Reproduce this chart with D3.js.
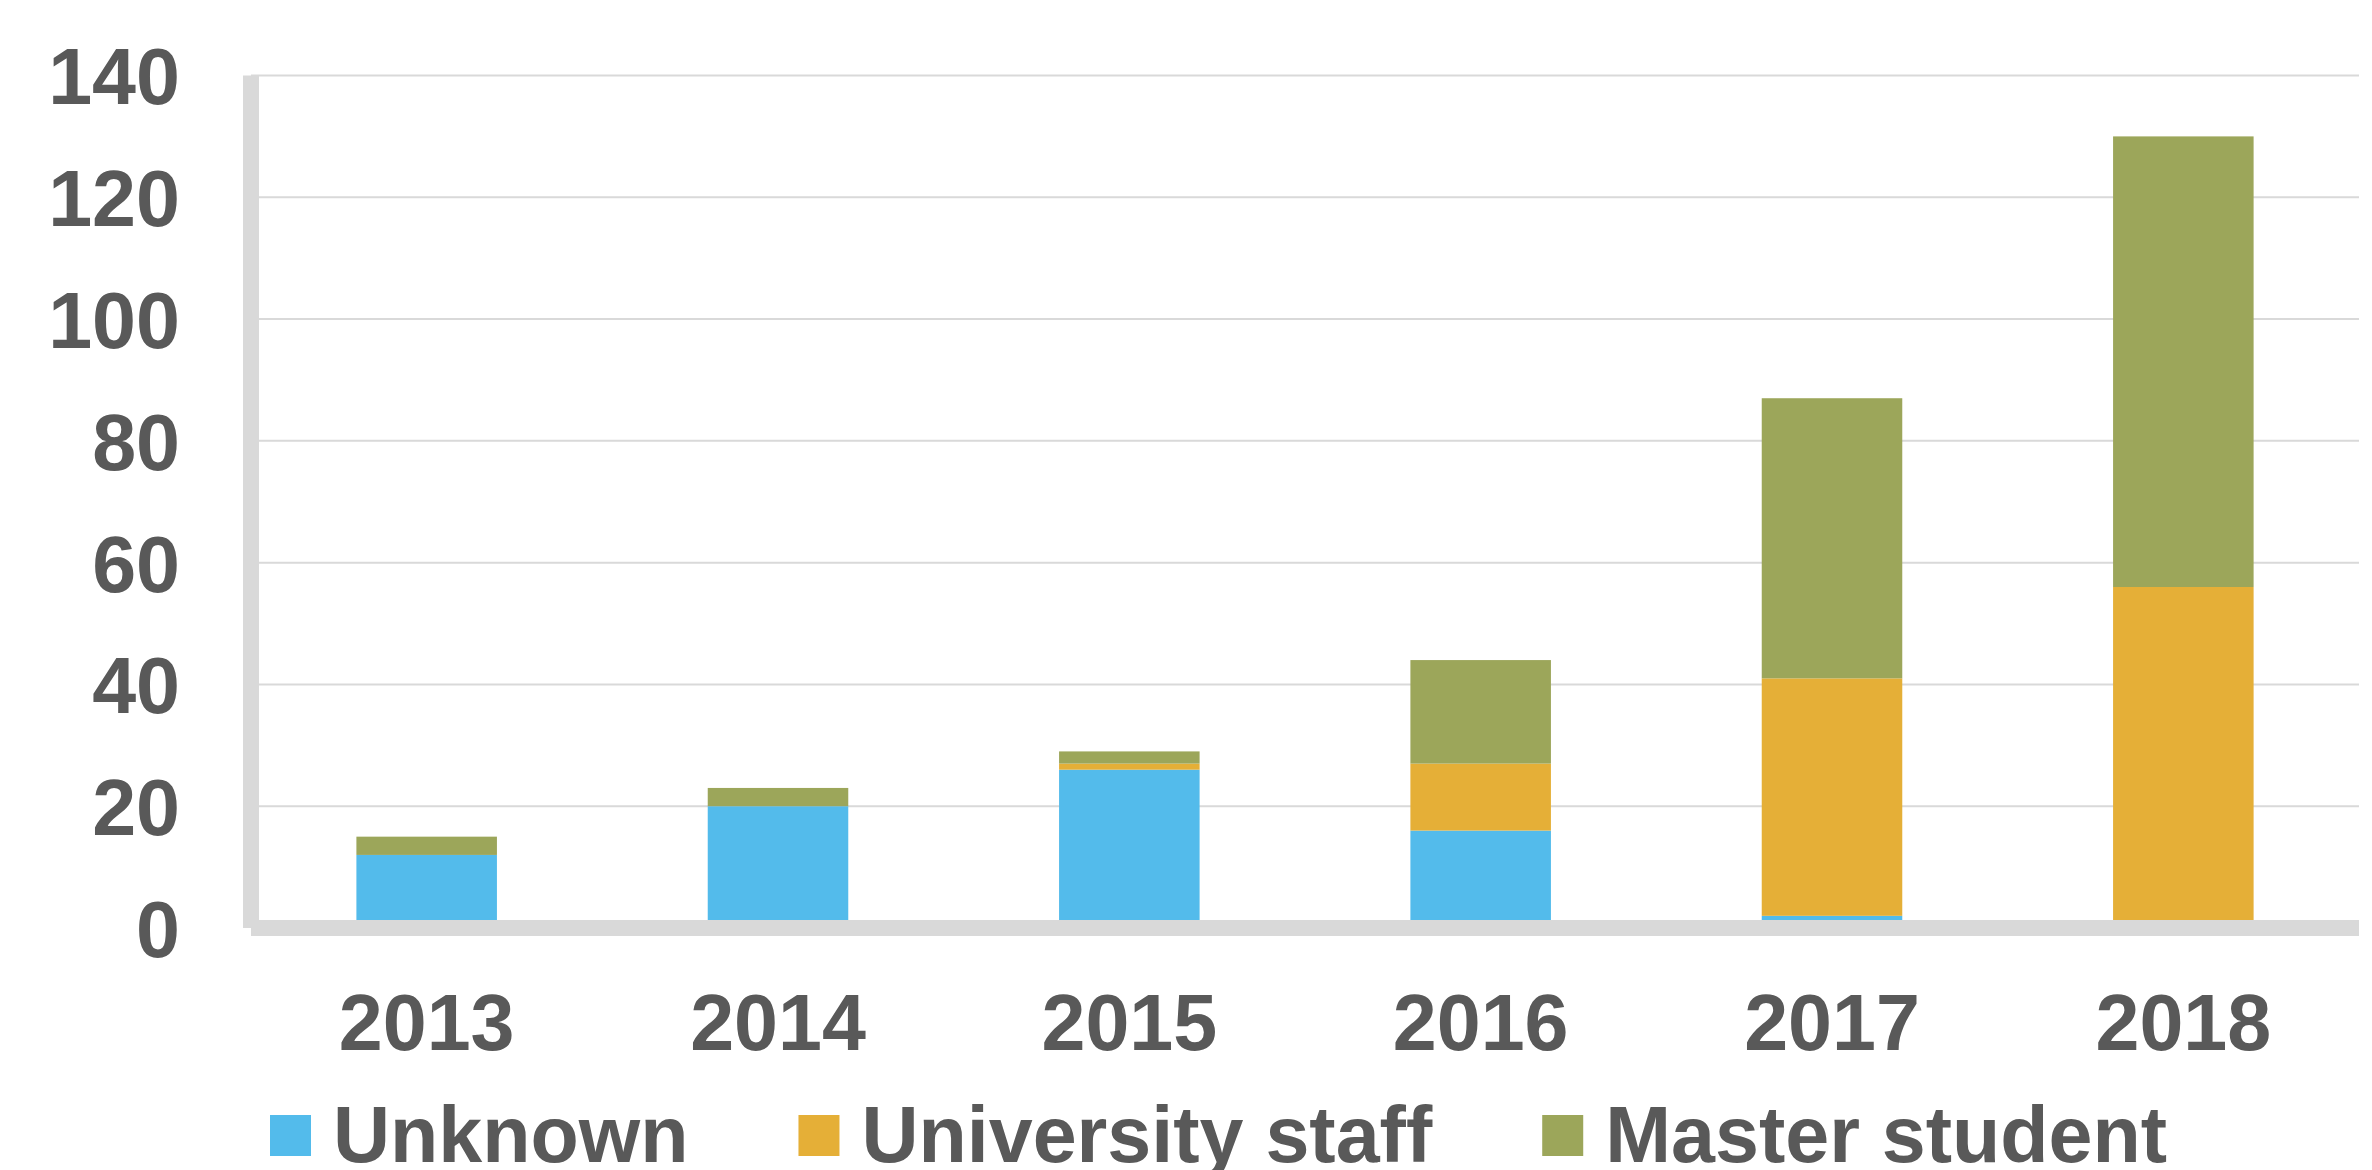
<!DOCTYPE html>
<html><head><meta charset="utf-8">
<script src="https://cdn.jsdelivr.net/npm/d3@7"></script>
<style>html,body{margin:0;padding:0;background:#fff;}svg{display:block;}</style>
</head><body>
<svg id="chart" width="2372" height="1170"></svg>
<script>
const years = ["2013","2014","2015","2016","2017","2018"];
const seriesNames = ["Unknown","University staff","Master student"];
const unknown = [12, 20, 26, 16, 2, 0];
const universityStaff = [0, 0, 1, 11, 39, 56];
const masterStudent = [3, 3, 2, 17, 46, 74];
const yTicks = [0, 20, 40, 60, 80, 100, 120, 140];
const colors = ["#53BBEB", "#E5AF37", "#9CA65A"];

const svg = d3.select("#chart");
const font = "'Liberation Sans', Arial, sans-serif";
const textColor = "#595959";
const grid = "#D9D9D9";

const x0 = 251, x1 = 2359, yTop = 75.5, yZero = 928;
const x = d3.scaleBand().domain(years).range([x0, x1]).paddingInner(0.6).paddingOuter(0.3);
const y = d3.scaleLinear().domain([0, 140]).range([yZero, yTop]);

const table = years.map((yr, i) => ({year: yr, "Unknown": unknown[i], "University staff": universityStaff[i], "Master student": masterStudent[i]}));
const stacked = d3.stack().keys(seriesNames)(table);

// gridlines
svg.append("g").selectAll("line").data(yTicks.filter(t => t > 0)).join("line")
  .attr("x1", x0).attr("x2", x1)
  .attr("y1", d => y(d)).attr("y2", d => y(d))
  .attr("stroke", grid).attr("stroke-width", 2);

// bars
svg.append("g").selectAll("g").data(stacked).join("g")
  .attr("fill", (d, i) => colors[i])
  .selectAll("rect").data(d => d).join("rect")
  .attr("x", d => x(d.data.year))
  .attr("width", x.bandwidth())
  .attr("y", d => y(d[1]))
  .attr("height", d => Math.max(0, y(d[0]) - y(d[1])));

// left wall and floor
svg.append("rect").attr("x", x0 - 8).attr("y", yTop).attr("width", 16).attr("height", yZero - yTop).attr("fill", grid);
svg.append("rect").attr("x", x0).attr("y", yZero - 8).attr("width", x1 - x0).attr("height", 16).attr("fill", grid);

// y axis labels
const yAxis = d3.axisLeft(y).tickValues(yTicks).tickSize(0).tickPadding(0).tickFormat(d3.format("d"));
const yg = svg.append("g").attr("transform", "translate(180,0)").call(yAxis);
yg.select(".domain").remove();
yg.selectAll("text").attr("font-family", font).attr("font-weight", "bold").attr("font-size", 79)
  .attr("fill", textColor).attr("dy", "0.36em");

// x axis labels
const xAxis = d3.axisBottom(x).tickSize(0).tickPadding(0);
const xg = svg.append("g").attr("transform", "translate(0,1050)").call(xAxis);
xg.select(".domain").remove();
xg.selectAll("text").attr("font-family", font).attr("font-weight", "bold").attr("font-size", 79)
  .attr("fill", textColor).attr("dy", 0);

// legend
const legend = svg.append("g");
let lx = 270;
seriesNames.forEach((name, i) => {
  legend.append("rect").attr("x", lx).attr("y", 1115).attr("width", 41).attr("height", 41).attr("fill", colors[i]);
  const t = legend.append("text").attr("x", lx + 63).attr("y", 1162)
    .attr("font-family", font).attr("font-weight", "bold").attr("font-size", 79)
    .attr("fill", textColor).text(name);
  lx = lx + 63 + t.node().getComputedTextLength() + 110;
});
</script>
</body></html>
